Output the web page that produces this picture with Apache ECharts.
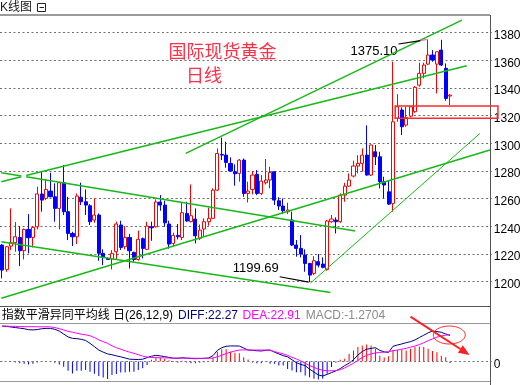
<!DOCTYPE html>
<html><head><meta charset="utf-8">
<script src="https://cdn.jsdelivr.net/npm/echarts@6/dist/echarts.min.js"></script>
<style>html,body{margin:0;padding:0;background:#fff}#c{width:530px;height:385px}</style>
</head><body><div id="c"></div>
<script>
// ---------- DATA ----------
const openP  = [1226.5,1208.9,1225.8,1228.2,1232.0,1222.4,1237.8,1232.0,1239.7,1263.4,
1260.2,1265.5,1261.4,1253.0,1271.6,1250.6,1234.9,1232.5,1261.0,1257.8,
1254.9,1244.6,1248.2,1220.5,1216.9,1216.4,1221.7,1241.0,1225.3,1232.0,
1221.2,1216.1,1231.1,1223.4,1239.7,1239.7,1257.6,1255.4,1241.7,1227.7,
1233.5,1232.0,1249.4,1243.4,1245.3,1231.3,1238.1,1243.4,1245.8,1266.2,
1292.0,1291.5,1285.5,1279.5,1278.3,1287.9,1263.8,1266.7,1277.6,1263.8,
1271.5,1273.5,1279.5,1258.5,1254.7,1250.6,1244.6,1226.5,1224.1,1219.3,
1213.2,1206.0,1214.5,1212.8,1208.9,1243.4,1244.6,1243.4,1262.6,1269.1,
1276.4,1283.6,1285.5,1291.5,1277.1,1293.9,1290.3,1272.3,1265.0,1256.6,
1318.1,1324.1,1313.2,1319.7,1322.9,1342.1,1350.6,1357.3,1363.8,1357.3,
1367.4,1354.2,1334.2];
const closeP = [1208.4,1225.3,1228.2,1232.5,1222.4,1237.8,1231.8,1239.3,1263.4,1259.0,
1266.7,1261.4,1253.0,1271.6,1250.6,1234.9,1232.5,1261.9,1257.8,1255.4,
1243.4,1248.2,1220.5,1217.6,1216.1,1220.5,1241.7,1224.8,1232.0,1222.4,
1216.1,1230.6,1224.1,1240.2,1239.0,1257.6,1255.4,1242.6,1227.2,1233.5,
1232.5,1249.9,1243.9,1247.7,1233.2,1237.3,1243.4,1245.8,1266.2,1292.7,
1291.5,1286.2,1280.0,1278.0,1287.9,1263.8,1265.5,1277.1,1263.8,1272.7,
1273.5,1279.0,1259.0,1254.7,1251.3,1251.8,1226.5,1224.1,1220.0,1213.2,
1204.8,1215.2,1212.0,1210.4,1243.9,1245.3,1243.4,1262.6,1269.1,1273.5,
1283.6,1285.5,1291.5,1277.1,1298.8,1290.3,1272.3,1269.9,1256.1,1315.6,
1326.5,1312.0,1318.8,1326.5,1340.5,1350.6,1356.6,1363.8,1360.2,1366.2,
1356.6,1332.5,1334.9];
const lowP   = [1202.4,1207.2,1222.9,1221.7,1211.3,1216.1,1220.5,1224.8,1237.8,1250.6,
1259.0,1261.0,1243.4,1237.8,1248.2,1230.1,1225.8,1227.2,1255.4,1248.2,
1241.0,1242.6,1215.2,1212.0,1215.7,1208.9,1215.7,1222.9,1223.4,1209.6,
1214.5,1215.2,1216.9,1222.9,1229.6,1239.3,1251.3,1239.7,1223.9,1225.8,
1230.6,1230.1,1243.4,1242.9,1227.7,1230.1,1232.5,1240.5,1245.3,1265.5,
1287.9,1282.4,1279.5,1269.4,1272.3,1261.4,1257.3,1263.1,1262.6,1262.6,
1270.3,1267.5,1255.4,1251.8,1248.9,1248.9,1225.8,1218.1,1217.6,1207.2,
1199.69,1204.8,1210.4,1209.6,1207.9,1242.6,1234.9,1242.6,1257.8,1268.7,
1275.4,1278.3,1279.5,1276.8,1276.4,1284.3,1267.5,1260.2,1255.4,1250.6,
1315.6,1306.0,1312.0,1318.8,1322.1,1340.9,1347.0,1356.6,1359.0,1336.1,
1355.9,1330.8,1327.7];
const highP  = [1227.2,1225.8,1253.0,1243.1,1240.2,1238.5,1248.9,1240.2,1268.7,1280.0,
1273.9,1278.8,1271.1,1272.3,1284.3,1261.4,1236.1,1263.8,1271.6,1266.7,
1256.1,1260.2,1249.4,1223.4,1217.6,1222.9,1243.4,1244.1,1240.2,1234.5,
1221.7,1236.9,1232.0,1243.4,1243.4,1259.5,1262.6,1258.5,1244.1,1235.4,
1241.7,1257.1,1257.8,1270.3,1253.0,1241.4,1245.8,1253.5,1267.5,1296.4,
1304.1,1301.2,1289.9,1284.8,1288.7,1289.1,1272.3,1280.0,1280.7,1277.1,
1288.7,1283.1,1280.0,1261.0,1260.2,1257.1,1250.6,1230.1,1233.7,1223.4,
1213.7,1218.5,1220.0,1217.6,1244.6,1248.2,1246.5,1263.8,1271.5,1278.3,
1287.5,1291.5,1296.4,1313.0,1299.0,1298.8,1293.9,1275.9,1273.5,1359.0,
1335.6,1326.0,1326.5,1327.0,1341.4,1358.3,1358.3,1375.1,1367.4,1366.2,
1374.8,1357.8,1335.6];

const diffVals = [30.3,30.0,29.5,29.0,28.5,28.0,27.2,27.0,27.3,28.0,
28.3,28.3,27.5,26.0,23.5,21.0,19.8,19.5,19.0,18.0,
15.5,12.7,9.8,8.0,6.5,5.8,4.8,4.0,3.0,2.0,
1.8,1.7,2.0,3.3,4.5,5.3,4.8,4.2,3.5,2.8,
2.7,3.2,2.9,2.6,2.4,2.6,2.7,3.0,5.0,9.5,
11.8,13.0,13.3,13.3,13.2,11.5,9.8,9.5,9.2,9.0,
9.5,9.8,8.0,6.5,5.0,4.0,1.5,-1.0,-2.5,-3.5,
-6.5,-9.0,-11.5,-12.4,-11.0,-9.5,-8.0,-6.0,-3.5,-1.5,
1.5,5.5,8.5,10.5,11.2,11.8,9.5,8.2,7.8,13.0,
14.1,15.0,16.1,17.0,18.4,20.5,22.5,24.5,26.1,25.6,
25.0,23.5,22.27];
const deaVals = [30.3,30.2,30.1,30.0,29.9,29.8,29.8,29.8,29.7,29.7,
29.7,29.6,29.0,28.0,27.0,25.8,25.0,24.2,23.4,22.8,
22.0,20.5,18.5,17.0,15.5,13.5,11.8,10.5,9.2,8.0,
7.0,5.8,4.6,3.8,3.4,3.3,3.2,3.1,3.0,2.9,
2.9,2.9,2.8,2.8,2.8,2.7,2.7,2.7,3.0,4.0,
5.3,6.8,8.0,9.0,9.8,9.9,9.9,9.8,9.8,9.8,
9.8,9.6,8.5,7.5,6.5,5.2,3.5,2.2,0.5,-1.5,
-3.5,-5.0,-6.5,-7.5,-8.0,-7.9,-7.8,-7.0,-5.5,-3.5,
-1.5,1.0,3.5,5.2,6.5,7.3,7.8,8.0,8.4,9.2,
9.8,10.5,11.3,12.3,13.2,14.5,16.0,17.8,19.3,20.8,
21.8,22.5,22.91];
const macdVals = [0.5,0.3,-0.3,-0.8,-1.5,-2.0,-2.5,-2.0,-0.8,0.4,
0.5,0.3,-1.0,-2.5,-4.4,-8.0,-10.2,-7.9,-7.9,-7.3,
-8.7,-10.5,-12.4,-13.6,-15.0,-11.6,-10.7,-9.5,-9.5,-8.7,
-8.7,-7.3,-5.8,-3.0,1.5,3.0,3.2,2.2,1.0,-0.5,
-1.0,0.6,-0.8,-1.5,-1.5,-1.0,-0.6,0.5,3.5,8.4,
10.4,10.4,8.4,7.5,7.0,3.6,1.8,-0.8,-1.5,-1.5,
-0.5,-2.0,-2.0,-3.4,-3.4,-6.3,-7.7,-9.1,-9.1,-12.0,
-13.4,-14.8,-15.4,-14.8,-10.5,-4.8,-1.0,1.4,2.3,6.6,
9.4,12.3,13.7,14.5,13.7,10.8,5.0,3.5,4.5,9.9,
9.9,9.9,9.4,10.8,12.3,12.8,12.3,10.8,9.0,8.0,
5.0,3.7,-1.2704];

const priceTicks = [1200,1220,1240,1260,1280,1300,1320,1340,1360,1380];
const macdTicks = [0];

// trend lines in data space: [candle index, price]
const greenLines = [
  [[-0.2,1272.2],[4.34,1275.8]],
  [[5.47,1276.7],[105.8,1356.1]],
  [[41.8,1292.8],[104.7,1389.1]],
  [[-0.2,1188.0],[111.08,1295.2]],
  [[-0.2,1278.75],[4.34,1276.4]],
  [[5.47,1275.8],[80.42,1236.6]],
  [[-0.2,1228.9],[74.75,1192.2]]
];
const thinGreenLines = [ [[70.2,1199.0],[108.8,1307.2]] ];
const blackPointers = [ [[90.26,1371.8],[95.3,1374.2]], [[63.2,1203.6],[69.8,1199.69]] ];
const pinkPointers = [ [[95.3,1374.2],[96.7,1375.1]] ];
const zoneBox = {from: 89.5, to: 112.9, top: 1327.0, bottom: 1318.1};

const SLOTS = 112;
const categories = [];
for (let i = 1; i <= SLOTS; i++) categories.push(String(i));

// ---------- CHART ----------
const chart = echarts.init(document.getElementById('c'), null, {renderer: 'canvas', width: 530, height: 385});
const GL = -1.3, GW = 493.1;
const numFont = 'Liberation Sans, Arial, sans-serif';
const cjkFont = 'Liberation Sans, "Noto Sans CJK SC", sans-serif';

const kData = openP.map((o, i) => [o, closeP[i], lowP[i], highP[i]]);

const series = [];
series.push({
  type: 'candlestick', xAxisIndex: 0, yAxisIndex: 0, data: kData, barWidth: 3.6,
  itemStyle: {color: '#ffffff', color0: '#0000ff', borderColor: '#ff0000', borderColor0: '#0000ff', borderWidth: 1},
  silent: true
});
function seg(points, color, width, z) {
  return {type: 'line', xAxisIndex: 1, yAxisIndex: 0, data: points, symbol: 'none', silent: true,
    lineStyle: {color: color, width: width}, z: z || 3, animation: false};
}
greenLines.forEach(p => series.push(seg(p, '#18b818', 1.5)));
thinGreenLines.forEach(p => series.push(seg(p, '#18b818', 1)));
blackPointers.forEach(p => series.push(seg(p, '#000000', 1.2)));
pinkPointers.forEach(p => series.push(seg(p, '#ff66cc', 1.2)));

series.push({
  type: 'bar', xAxisIndex: 2, yAxisIndex: 1, data: macdVals, barWidth: 1, silent: true,
  itemStyle: {color: p => p.value >= 0 ? '#ff0000' : '#0000ff'},
  markLine: {silent: true, symbol: 'none', label: {show: false},
    lineStyle: {color: '#777', type: [2, 2.5], width: 1}, data: [{yAxis: 0}]}
});
series.push({type: 'line', xAxisIndex: 2, yAxisIndex: 1, data: diffVals, symbol: 'none', silent: true,
  lineStyle: {color: '#000080', width: 1}});
series.push({type: 'line', xAxisIndex: 2, yAxisIndex: 1, data: deaVals, symbol: 'none', silent: true,
  lineStyle: {color: '#ff00ff', width: 1}});

const splitColors = ['rgba(0,0,0,0)'];
for (let i = 0; i < 10; i++) splitColors.push('#707070');
splitColors.push('rgba(0,0,0,0)');

const labelStyle = {margin: 2, color: '#000', fontSize: 12, fontFamily: numFont,
  verticalAlign: 'top', lineHeight: 6};

chart.setOption({
  animation: false,
  backgroundColor: '#ffffff',
  grid: [
    {left: GL, top: 5, width: GW, height: 304.4},
    {left: GL, top: 323.3, width: GW, height: 58.4}
  ],
  xAxis: [
    {type: 'category', gridIndex: 0, data: categories, boundaryGap: true, axisLine: {show: false}, axisTick: {show: false}, axisLabel: {show: false}, splitLine: {show: false}},
    {type: 'value', gridIndex: 0, min: -0.5, max: SLOTS - 0.5, show: false, splitLine: {show: false}},
    {type: 'category', gridIndex: 1, data: categories, boundaryGap: true, axisLine: {show: false}, axisTick: {show: false}, axisLabel: {show: false}, splitLine: {show: false}}
  ],
  yAxis: [
    {type: 'value', gridIndex: 0, position: 'right', min: 1180, max: 1400, interval: 20,
      axisLine: {show: false}, axisTick: {show: false},
      axisLabel: Object.assign({}, labelStyle, {
        formatter: v => priceTicks.indexOf(Math.round(v)) >= 0 ? String(Math.round(v)) : ''}),
      splitLine: {show: true, lineStyle: {color: splitColors, type: [2, 2.5], width: 1}}},
    {type: 'value', gridIndex: 1, position: 'right', min: -17.26, max: 32.65,
      axisLine: {show: false}, axisTick: {show: false}, splitLine: {show: false},
      axisLabel: Object.assign({}, labelStyle, {showMinLabel: false, showMaxLabel: false,
        formatter: v => macdTicks.some(t => Math.abs(v - t) < 1e-9) ? String(Math.round(v)) : ''})}
  ],
  series: series
});

// ---------- ANNOTATIONS ----------
const tl = chart.convertToPixel({xAxisIndex: 1, yAxisIndex: 0}, [zoneBox.from, zoneBox.top]);
const br = chart.convertToPixel({xAxisIndex: 1, yAxisIndex: 0}, [zoneBox.to, zoneBox.bottom]);

// arrow geometry
const aS = [410.5, 316.7], aT = [469.6, 355];
const dx = aT[0] - aS[0], dy = aT[1] - aS[1], L = Math.hypot(dx, dy);
const ux = dx / L, uy = dy / L, nx = -uy, ny = ux;
const bx = aT[0] - 11 * ux, by = aT[1] - 11 * uy;

chart.setOption({
  graphic: [
    {type: 'text', left: 0, top: 2, style: {text: 'K线图', fill: '#1a1a1a', font: '12px ' + cjkFont}},
    {type: 'rect', shape: {x: 37.5, y: 3.5, width: 8, height: 8}, style: {fill: 'none', stroke: '#222', lineWidth: 1}},
    {type: 'line', shape: {x1: 39.5, y1: 7.5, x2: 44, y2: 7.5}, style: {stroke: '#222', lineWidth: 1}},
    {type: 'line', shape: {x1: 0, y1: 15, x2: 490, y2: 15}, style: {stroke: '#7a7a7a', lineWidth: 1.5}},
    {type: 'line', shape: {x1: 490.5, y1: 15, x2: 490.5, y2: 385}, style: {stroke: '#555', lineWidth: 1}},
    {type: 'line', shape: {x1: 0, y1: 306.5, x2: 490, y2: 306.5}, style: {stroke: '#555', lineWidth: 1}},
    {type: 'line', shape: {x1: 0, y1: 323.5, x2: 490, y2: 323.5}, style: {stroke: '#999', lineWidth: 1}},
    {type: 'line', shape: {x1: 0, y1: 381.5, x2: 490, y2: 381.5}, style: {stroke: '#999', lineWidth: 1}},
    {type: 'text', x: 222.5, y: 51.3, style: {text: '国际现货黄金', fill: '#ff3048', font: '18px "Noto Sans CJK SC", sans-serif', textAlign: 'center', textVerticalAlign: 'middle'}},
    {type: 'text', x: 204, y: 74.7, style: {text: '日线', fill: '#ff3048', font: '18px "Noto Sans CJK SC", sans-serif', textAlign: 'center', textVerticalAlign: 'middle'}},
    {type: 'text', x: 374, y: 51.5, style: {text: '1375.10', fill: '#000', font: '13px ' + numFont, textAlign: 'center', textVerticalAlign: 'middle'}},
    {type: 'text', x: 255.8, y: 268.3, style: {text: '1199.69', fill: '#000', font: '13px ' + numFont, textAlign: 'center', textVerticalAlign: 'middle'}},
    {type: 'rect', shape: {x: tl[0], y: tl[1], width: br[0] - tl[0], height: br[1] - tl[1]}, style: {fill: 'none', stroke: '#ff2a2a', lineWidth: 1.5}, z: 10},
    {type: 'text', x: 1.7, y: 315.3, style: {text: '指数平滑异同平均线 日(26,12,9)', fill: '#000', font: '12px ' + cjkFont, textVerticalAlign: 'middle'}},
    {type: 'text', x: 178, y: 315.3, style: {text: 'DIFF:22.27', fill: '#000080', font: '12px ' + numFont, textVerticalAlign: 'middle'}},
    {type: 'text', x: 242.6, y: 315.3, style: {text: 'DEA:22.91', fill: '#ff00ff', font: '12px ' + numFont, textVerticalAlign: 'middle'}},
    {type: 'text', x: 305.7, y: 315.3, style: {text: 'MACD:-1.2704', fill: '#8a8a8a', font: '12px ' + numFont, textVerticalAlign: 'middle'}},
    {type: 'ellipse', shape: {cx: 449.3, cy: 335, rx: 16, ry: 9}, style: {fill: 'none', stroke: '#ff3030', lineWidth: 1}, z: 10},
    {type: 'line', shape: {x1: aS[0], y1: aS[1], x2: bx, y2: by}, style: {stroke: '#ff2020', lineWidth: 2}, z: 10},
    {type: 'polygon', shape: {points: [aT, [bx + 4.5 * nx, by + 4.5 * ny], [bx - 4.5 * nx, by - 4.5 * ny]]}, style: {fill: '#ff2020'}, z: 10}
  ]
});
</script>
</body></html>
